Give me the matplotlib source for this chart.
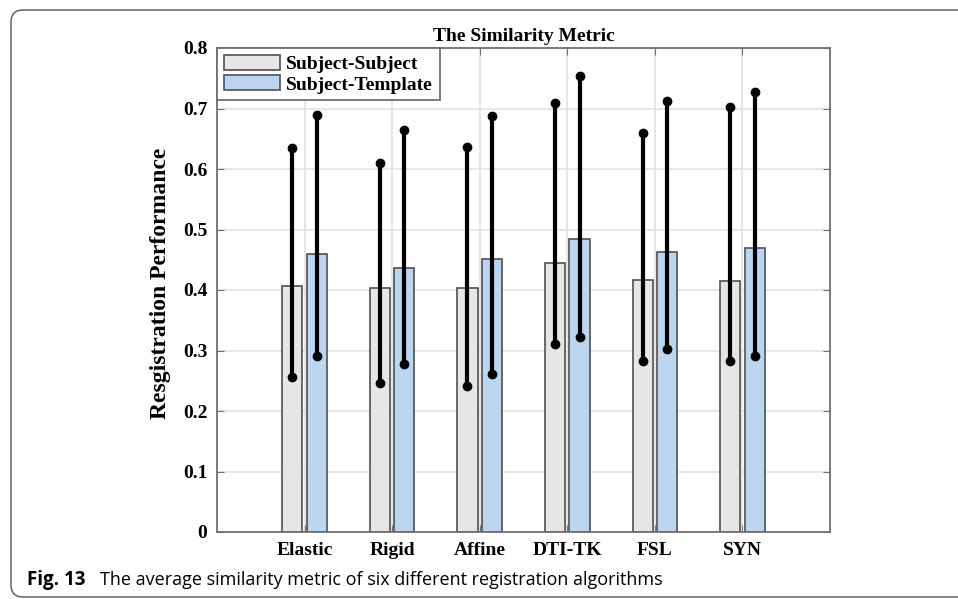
import matplotlib.pyplot as plt
import numpy as np
from matplotlib.patches import PathPatch
from matplotlib.path import Path
from matplotlib.transforms import IdentityTransform

methods = ["Elastic", "Rigid", "Affine", "DTI-TK", "FSL", "SYN"]
series = ["Subject-Subject", "Subject-Template"]

# mean registration performance
subj_subj = [0.406, 0.404, 0.404, 0.444, 0.416, 0.415]
subj_tmpl = [0.460, 0.437, 0.451, 0.484, 0.462, 0.470]

# error bar ends (low / high)
ss_low = [0.256, 0.247, 0.242, 0.310, 0.282, 0.282]
ss_high = [0.634, 0.610, 0.636, 0.709, 0.660, 0.702]
st_low = [0.291, 0.277, 0.261, 0.322, 0.303, 0.291]
st_high = [0.690, 0.664, 0.688, 0.753, 0.713, 0.727]

yticks = [0, 0.1, 0.2, 0.3, 0.4, 0.5, 0.6, 0.7, 0.8]
ytick_labels = ["0", "0.1", "0.2", "0.3", "0.4", "0.5", "0.6", "0.7", "0.8"]

serif = "Liberation Serif"

fig = plt.figure(figsize=(9.58, 5.99), dpi=100)
W, H = 958, 599
ax = fig.add_axes([217 / W, 1 - 532 / H, (830 - 217) / W, (532 - 48) / H])

x = np.arange(1, len(methods) + 1)
off = 0.14
bw = 0.23
colors = ["#e6e6e6", "#bcd5f1"]
ax.set_axisbelow(True)
for i, (vals, lo, hi) in enumerate([(subj_subj, ss_low, ss_high),
                                    (subj_tmpl, st_low, st_high)]):
    xs = x + (i * 2 - 1) * off
    ax.bar(xs, vals, width=bw, color=colors[i], edgecolor="#505050",
           linewidth=1.2, label=series[i], zorder=2)
    vals = np.array(vals)
    ax.errorbar(xs, vals, yerr=[vals - np.array(lo), np.array(hi) - vals],
                fmt="none", ecolor="black", elinewidth=3.0, capsize=0, zorder=3)
    ax.plot(xs, lo, "o", color="black", ms=6, zorder=4)
    ax.plot(xs, hi, "o", color="black", ms=6, zorder=4)

ax.set_xlim(0, 7)
ax.set_ylim(0, 0.8)
ax.set_xticks(x)
ax.set_xticklabels(methods)
ax.set_yticks(yticks)
ax.set_yticklabels(ytick_labels)
ax.grid(True, color="#e2e2e2", linewidth=1.2)
ax.tick_params(direction="in", top=True, right=True, length=5, color="#707070",
               labelsize=14, pad=7)
for lbl in ax.get_xticklabels() + ax.get_yticklabels():
    lbl.set_fontfamily(serif)
    lbl.set_fontweight("bold")
for s in ax.spines.values():
    s.set_color("#707070")
    s.set_linewidth(1.3)

ax.set_title("The Similarity Metric", fontfamily=serif, fontweight="bold",
             fontsize=14, pad=5)
ax.set_ylabel("Resgistration Performance", fontfamily=serif, fontweight="bold",
              fontsize=17)
ax.yaxis.set_label_coords(-0.075, 0.514)

leg = ax.legend(loc="upper left", bbox_to_anchor=(0, 1), borderaxespad=0,
                prop={"family": serif, "weight": "bold", "size": 14},
                fancybox=False, edgecolor="#707070", framealpha=1,
                handlelength=2.9, handleheight=0.8, labelspacing=0.12,
                borderpad=0.35, handletextpad=0.3)
leg.get_frame().set_linewidth(1.3)

# caption
fig.text(27 / W, 1 - 580 / H, "Fig. 13", fontfamily="Open Sans",
         fontweight="bold", fontsize=13.5, va="center")
fig.text(100 / W, 1 - 580 / H,
         "The average similarity metric of six different registration algorithms",
         fontfamily="Open Sans", fontsize=13, va="center")

# card border: open path, rounded on the left side only (pixel coords, y up)
r = 12
x0, yb, yt = 11, 2, 589
verts = [(1200, yt), (x0 + r, yt), (x0, yt), (x0, yt - r),
         (x0, yb + r), (x0, yb), (x0 + r, yb), (1200, yb)]
codes = [Path.MOVETO, Path.LINETO, Path.CURVE3, Path.CURVE3,
         Path.LINETO, Path.CURVE3, Path.CURVE3, Path.LINETO]
card = PathPatch(Path(verts, codes), facecolor="none", edgecolor="#555555",
                 linewidth=1.0, clip_on=False)
fig.add_artist(card)
card.set_transform(IdentityTransform())

fig.savefig("out.png", dpi=100)
